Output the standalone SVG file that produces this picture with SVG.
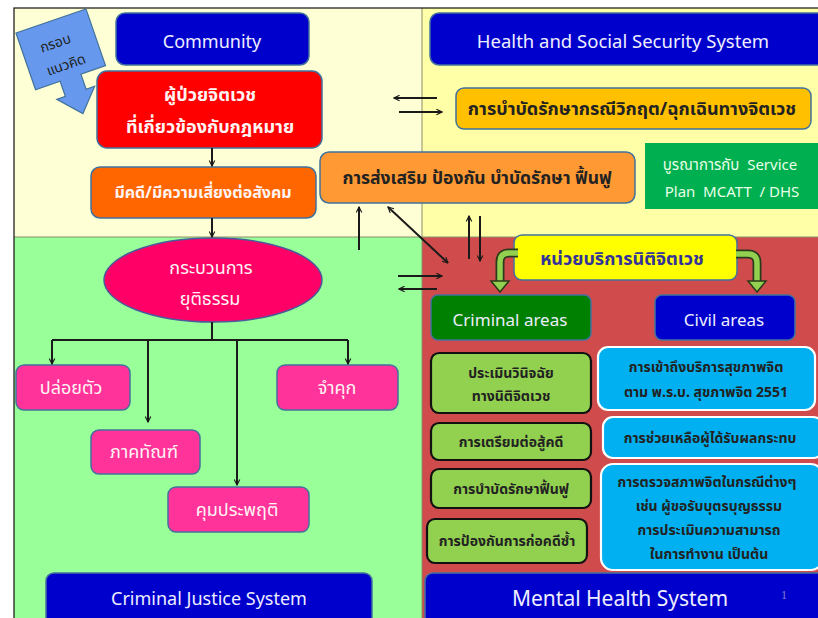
<svg xmlns="http://www.w3.org/2000/svg" width="818" height="618" viewBox="0 0 818 618">
<defs>
<marker id="ah" viewBox="0 0 10 10" refX="9" refY="5" markerWidth="7" markerHeight="7" orient="auto-start-reverse" markerUnits="userSpaceOnUse">
<path d="M1,1 L9,5 L1,9" fill="none" stroke="#1a1a1a" stroke-width="1.6"/>
</marker>
<style>
.en{font-family:"Noto Sans","DejaVu Sans",sans-serif;fill:#EEEEFF;text-anchor:middle}
.th{font-family:"Noto Sans","Noto Sans Thai","Tahoma","DejaVu Sans",sans-serif;text-anchor:middle}
.w{fill:#FFF4F4}
.d{fill:#222222;font-weight:bold}
.box{stroke:#41719C;stroke-width:1.5}
.con{fill:none;stroke:#1a1a1a;stroke-width:2}
.lg{fill:#92D050;stroke:#111;stroke-width:2.2}
.cy{fill:#00B0F0;stroke:#FFFFFF;stroke-width:2.2}
</style>
</defs>
<rect x="0" y="0" width="818" height="618" fill="#FFFFFF"/>
<g id="background">
<rect x="14" y="8" width="408" height="229" fill="#FFFFD6"/>
<rect x="422" y="8" width="396" height="229" fill="#FFFFA8"/>
<rect x="14" y="237" width="408" height="381" fill="#99FF99"/>
<rect x="422" y="237" width="396" height="381" fill="#D04C4C"/>
<line x1="422" y1="8" x2="422" y2="618" stroke="#8C8C6C" stroke-width="1"/>
<line x1="14" y1="237" x2="818" y2="237" stroke="#8C8C6C" stroke-width="1"/>
<rect x="14" y="8" width="810" height="620" fill="none" stroke="#111" stroke-width="1.2"/>
</g>
<g id="concept">
<g transform="translate(16,33) rotate(-19)">
<polygon points="0,0 74,0 74,60 48,60 48,76 57,76 37,98 17,76 26,76 26,60 0,60" fill="#6699EE" stroke="#41719C" stroke-width="1.2"/>
<text class="th" x="34" y="27" font-size="14" fill="#222">กรอบ</text>
<text class="th" x="37" y="51" font-size="14" fill="#222">แนวคิด</text>
</g>
</g>
<g id="community">
<rect class="box" x="116" y="13" width="193" height="52" rx="9" fill="#0000CC"/>
<text class="en" x="212" y="48" font-size="18">Community</text>
</g>
<g id="hsss">
<rect class="box" x="430" y="13" width="396" height="52" rx="9" fill="#0000CC"/>
<text class="en" x="623" y="48" font-size="18.5">Health and Social Security System</text>
</g>
<g id="patient">
<rect class="box" x="97" y="71" width="225" height="77" rx="10" fill="#FF0000"/>
<text class="th w" x="210" y="101" font-size="18" font-weight="bold">ผู้ป่วยจิตเวช</text>
<text class="th w" x="210" y="133" font-size="18" font-weight="bold">ที่เกี่ยวข้องกับกฎหมาย</text>
</g>
<g id="risk">
<rect class="box" x="91" y="167" width="225" height="51" rx="9" fill="#FF6600"/>
<text class="th w" x="203" y="198" font-size="16" font-weight="bold">มีคดี/มีความเสี่ยงต่อสังคม</text>
</g>
<g id="promote">
<rect class="box" x="320" y="152" width="315" height="51" rx="9" fill="#FF9933"/>
<text class="th d" x="477" y="184" font-size="17.5">การส่งเสริม ป้องกัน บำบัดรักษา ฟื้นฟู</text>
</g>
<g id="crisis">
<rect class="box" x="456" y="88" width="355" height="41" rx="8" fill="#FFC000"/>
<text class="th d" x="632" y="115" font-size="18">การบำบัดรักษากรณีวิกฤต/ฉุกเฉินทางจิตเวช</text>
</g>
<g id="integrate">
<rect x="645" y="143" width="175" height="66" fill="#00B050"/>
<text class="th" x="730" y="170" font-size="15" fill="#E8FFE8" style="white-space:pre">บูรณาการกับ  Service</text>
<text class="th" x="732" y="197" font-size="15" fill="#E8FFE8" style="white-space:pre">Plan  MCATT  / DHS</text>
</g>
<g id="justice">
<ellipse cx="213" cy="280" rx="109" ry="42" fill="#FF0066" stroke="#4A5A9A" stroke-width="1.5"/>
<text class="th w" x="211" y="274" font-size="18">กระบวนการ</text>
<text class="th w" x="210" y="305" font-size="18">ยุติธรรม</text>
</g>
<g id="release">
<rect class="box" x="16" y="365" width="114" height="45" rx="8" fill="#FF3399"/>
<text class="th w" x="71" y="394" font-size="18">ปล่อยตัว</text>
</g>
<g id="prison">
<rect class="box" x="277" y="365" width="121" height="45" rx="8" fill="#FF3399"/>
<text class="th w" x="337" y="394" font-size="18">จำคุก</text>
</g>
<g id="probation1">
<rect class="box" x="91" y="430" width="109" height="44" rx="8" fill="#FF3399"/>
<text class="th w" x="144" y="458" font-size="18">ภาคทัณฑ์</text>
</g>
<g id="probation2">
<rect class="box" x="168" y="487" width="141" height="45" rx="8" fill="#FF3399"/>
<text class="th w" x="237" y="516" font-size="18">คุมประพฤติ</text>
</g>
<g id="cjs">
<rect class="box" x="46" y="573" width="326" height="55" rx="8" fill="#0000CC"/>
<text class="en" x="209" y="605" font-size="18">Criminal Justice System</text>
</g>
<g id="mhs">
<rect class="box" x="425" y="573" width="400" height="55" rx="8" fill="#0000CC"/>
<text class="en" x="620" y="606" font-size="21">Mental Health System</text>
<text x="781" y="599" font-family="Liberation Serif,serif" font-size="12" fill="#8080C8">1</text>
</g>
<g id="forensic">
<rect class="box" x="514" y="235" width="223" height="45" rx="8" fill="#FFFF00"/>
<text class="th" x="622" y="265" font-size="18" font-weight="bold" fill="#333399">หน่วยบริการนิติจิตเวช</text>
</g>
<g id="criminal-areas">
<rect class="box" x="431" y="295" width="160" height="45" rx="7" fill="#008000"/>
<text class="en" x="510" y="326" font-size="17">Criminal areas</text>
</g>
<g id="civil-areas">
<rect class="box" x="655" y="295" width="140" height="45" rx="7" fill="#0000CC"/>
<text class="en" x="724" y="326" font-size="17">Civil areas</text>
</g>
<g id="assess">
<rect class="lg" x="431" y="353" width="160" height="60" rx="8"/>
<text class="th d" x="511" y="378" font-size="14">ประเมินวินิจฉัย</text>
<text class="th d" x="511" y="401" font-size="14">ทางนิติจิตเวช</text>
</g>
<g id="prepare">
<rect class="lg" x="431" y="423" width="160" height="37" rx="8"/>
<text class="th d" x="511" y="447" font-size="14">การเตรียมต่อสู้คดี</text>
</g>
<g id="rehab">
<rect class="lg" x="431" y="469" width="160" height="39" rx="8"/>
<text class="th d" x="511" y="494" font-size="14">การบำบัดรักษาฟื้นฟู</text>
</g>
<g id="prevent">
<rect class="lg" x="427" y="519" width="160" height="44" rx="8"/>
<text class="th d" x="507" y="546" font-size="14">การป้องกันการก่อคดีซ้ำ</text>
</g>
<g id="access">
<rect class="cy" x="598" y="347" width="217" height="63" rx="10"/>
<text class="th d" x="706" y="372" font-size="14">การเข้าถึงบริการสุขภาพจิต</text>
<text class="th d" x="706" y="397" font-size="14">ตาม พ.ร.บ. สุขภาพจิต 2551</text>
</g>
<g id="help">
<rect class="cy" x="603" y="417" width="220" height="41" rx="10"/>
<text class="th d" x="710" y="443" font-size="14">การช่วยเหลือผู้ได้รับผลกระทบ</text>
</g>
<g id="exam">
<rect class="cy" x="601" y="464" width="222" height="106" rx="12"/>
<text class="th d" x="707" y="487" font-size="14">การตรวจสภาพจิตในกรณีต่างๆ</text>
<text class="th d" x="709" y="511" font-size="14">เช่น ผู้ขอรับบุตรบุญธรรม</text>
<text class="th d" x="709" y="535" font-size="14">การประเมินความสามารถ</text>
<text class="th d" x="709" y="559" font-size="14">ในการทำงาน เป็นต้น</text>
</g>
<g id="connectors">
<line class="con" x1="212" y1="148" x2="212" y2="166" marker-end="url(#ah)"/>
<line class="con" x1="212" y1="218" x2="212" y2="237" marker-end="url(#ah)"/>
<path class="con" d="M212,322 V340 M52,340 H348"/>
<line class="con" x1="52" y1="340" x2="52" y2="364" marker-end="url(#ah)"/>
<line class="con" x1="148" y1="340" x2="148" y2="422" marker-end="url(#ah)"/>
<line class="con" x1="237" y1="340" x2="237" y2="485" marker-end="url(#ah)"/>
<line class="con" x1="348" y1="340" x2="348" y2="364" marker-end="url(#ah)"/>
<line class="con" x1="437" y1="98" x2="394" y2="98" marker-end="url(#ah)"/>
<line class="con" x1="399" y1="112" x2="442" y2="112" marker-end="url(#ah)"/>
<line class="con" x1="359" y1="250" x2="359" y2="207" marker-end="url(#ah)"/>
<line class="con" x1="388" y1="207" x2="448" y2="263" marker-start="url(#ah)" marker-end="url(#ah)"/>
<line class="con" x1="469" y1="259" x2="469" y2="216" marker-end="url(#ah)"/>
<line class="con" x1="480" y1="216" x2="480" y2="261" marker-end="url(#ah)"/>
<line class="con" x1="398" y1="276" x2="442" y2="276" marker-end="url(#ah)"/>
<line class="con" x1="437" y1="289" x2="399" y2="289" marker-end="url(#ah)"/>
<path d="M518,253 H509 Q500,253 500,262 V282" fill="none" stroke="#2a3a1a" stroke-width="9"/>
<path d="M518,253 H509 Q500,253 500,262 V283" fill="none" stroke="#92D050" stroke-width="5.5"/>
<polygon points="491,281 509,281 500,292" fill="#92D050" stroke="#2a3a1a" stroke-width="1.5"/>
<path d="M736,254 H748 Q757,254 757,263 V282" fill="none" stroke="#2a3a1a" stroke-width="9"/>
<path d="M736,254 H748 Q757,254 757,263 V283" fill="none" stroke="#92D050" stroke-width="5.5"/>
<polygon points="748,281 766,281 757,292" fill="#92D050" stroke="#2a3a1a" stroke-width="1.5"/>
</g>
</svg>
